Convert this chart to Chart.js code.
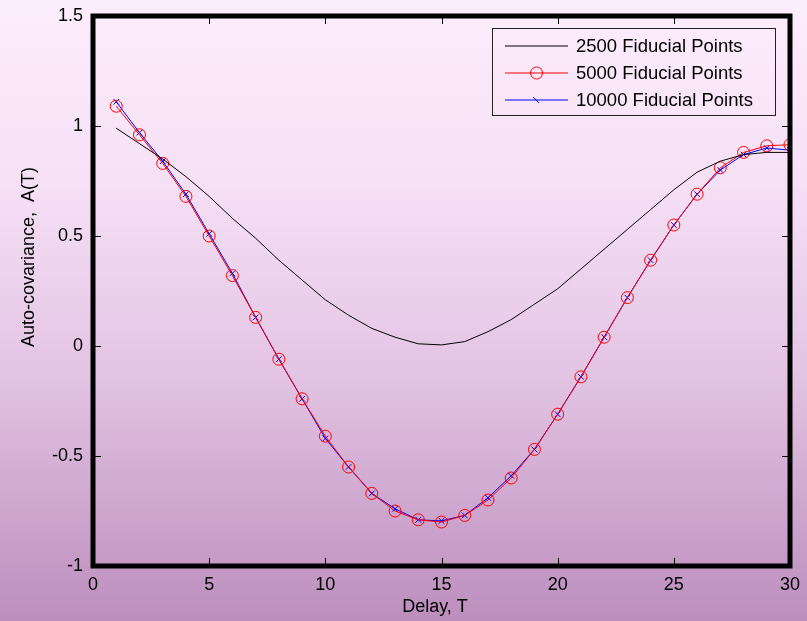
<!DOCTYPE html>
<html>
<head>
<meta charset="utf-8">
<script src="https://cdn.jsdelivr.net/npm/chart.js@4.4.1/dist/chart.umd.min.js"></script>
<style>
  html, body { margin: 0; padding: 0; }
  #wrap { width: 807px; height: 621px; }
</style>
</head>
<body>
<div id="wrap"><canvas id="graph" width="807" height="621"></canvas></div>
<script>
const delays = [1, 2, 3, 4, 5, 6, 7, 8, 9, 10, 11, 12, 13, 14, 15, 16, 17, 18, 19, 20, 21, 22, 23, 24, 25, 26, 27, 28, 29, 30];
const fid2500 = [0.99, 0.92, 0.85, 0.77, 0.68, 0.58, 0.49, 0.39, 0.30, 0.21, 0.14, 0.08, 0.04, 0.01, 0.005, 0.02, 0.065, 0.12, 0.19, 0.26, 0.35, 0.44, 0.53, 0.62, 0.71, 0.79, 0.84, 0.87, 0.88, 0.88];
const fid5000 = [1.09, 0.96, 0.83, 0.68, 0.50, 0.32, 0.13, -0.06, -0.24, -0.41, -0.55, -0.67, -0.75, -0.79, -0.80, -0.77, -0.70, -0.60, -0.47, -0.31, -0.14, 0.04, 0.22, 0.39, 0.55, 0.69, 0.81, 0.88, 0.91, 0.915];
const fid10000 = [1.11, 0.97, 0.84, 0.69, 0.51, 0.33, 0.13, -0.06, -0.24, -0.42, -0.55, -0.67, -0.74, -0.79, -0.795, -0.77, -0.69, -0.59, -0.47, -0.31, -0.14, 0.04, 0.22, 0.39, 0.55, 0.69, 0.80, 0.87, 0.90, 0.89];
const xTicks = [0, 5, 10, 15, 20, 25, 30];
const yTicks = [-1, -0.5, 0, 0.5, 1, 1.5];
const seriesNames = ["2500 Fiducial Points", "5000 Fiducial Points", "10000 Fiducial Points"];

const FONT = "'Liberation Sans', Arial, sans-serif";
const toPts = (ys) => delays.map((d, i) => ({ x: d, y: ys[i] }));

// page background + frame + inside ticks + axis titles + legend box
const decor = {
    id: "decor",
    beforeDraw(chart) {
        const c = chart.ctx;
        const g = c.createLinearGradient(0, 0, 0, chart.height);
        g.addColorStop(0, "#fcedfc");
        g.addColorStop(0.3, "#f6e0f6");
        g.addColorStop(0.6, "#e3c4e3");
        g.addColorStop(1, "#bc8ebd");
        c.save();
        c.fillStyle = g;
        c.fillRect(0, 0, chart.width, chart.height);
        c.restore();
    },
    afterDatasetsDraw(chart) {
        const c = chart.ctx;
        const a = chart.chartArea;
        const sx = chart.scales.x, sy = chart.scales.y;
        c.save();
        c.strokeStyle = "#000";
        c.lineWidth = 1;
        c.beginPath();
        xTicks.forEach((v) => {
            const px = Math.round(sx.getPixelForValue(v)) + 0.5;
            c.moveTo(px, a.bottom); c.lineTo(px, a.bottom - 8);
            c.moveTo(px, a.top); c.lineTo(px, a.top + 8);
        });
        yTicks.forEach((v) => {
            const py = Math.round(sy.getPixelForValue(v)) + 0.5;
            c.moveTo(a.left, py); c.lineTo(a.left + 8, py);
            c.moveTo(a.right, py); c.lineTo(a.right - 8, py);
        });
        c.stroke();
        c.lineWidth = 5;
        c.strokeRect(a.left, a.top, a.right - a.left, a.bottom - a.top);

        // axis titles
        c.fillStyle = "#000";
        c.font = "18px " + FONT;
        c.textAlign = "center";
        c.textBaseline = "middle";
        c.fillText("Delay, T", 435, 607);
        c.translate(29, 257);
        c.rotate(-Math.PI / 2);
        c.fillText("Auto-covariance,  A(T)", 0, 0);
        c.restore();

        // legend
        c.save();
        const bx = 492, by = 28, bw = 283, bh = 87;
        c.strokeStyle = "#222";
        c.lineWidth = 1;
        c.strokeRect(bx + 0.5, by + 0.5, bw, bh);
        c.font = "18.5px " + FONT;
        c.textAlign = "left";
        c.textBaseline = "middle";
        const cols = ["#000", "#ff0000", "#0000ff"];
        seriesNames.forEach((name, i) => {
            const ly = by + 18 + i * 27;
            c.strokeStyle = cols[i];
            c.beginPath();
            c.moveTo(505, ly); c.lineTo(568, ly);
            c.stroke();
            if (i === 1) {
                c.beginPath();
                c.arc(536.5, ly, 6, 0, Math.PI * 2);
                c.stroke();
            }
            if (i === 2) {
                c.beginPath();
                c.moveTo(533, ly - 3); c.lineTo(539, ly + 3);
                c.stroke();
            }
            c.fillStyle = "#000";
            c.fillText(name, 576, ly + 1);
        });
        c.restore();
    }
};

const graph = document.getElementById("graph").getContext("2d");

let myChart = new Chart(graph, {
    type: "line",
    data: {
        datasets: [
            {
                label: seriesNames[0],
                data: toPts(fid2500),
                borderColor: "#000",
                borderWidth: 1,
                pointRadius: 0,
                tension: 0,
            },
            {
                label: seriesNames[1],
                data: toPts(fid5000),
                borderColor: "#ff0000",
                borderWidth: 1,
                pointStyle: "circle",
                pointRadius: 6,
                pointBorderColor: "#ff0000",
                pointBackgroundColor: "rgba(0,0,0,0)",
                pointBorderWidth: 1,
                tension: 0,
            },
            {
                label: seriesNames[2],
                data: toPts(fid10000),
                borderColor: "#0000ff",
                borderWidth: 1,
                pointStyle: "crossRot",
                pointRadius: 4,
                pointBorderColor: "#0000ff",
                pointBorderWidth: 1,
                tension: 0,
            },
        ],
    },
    options: {
        responsive: false,
        animation: false,
        events: [],
        layout: {
            padding: { top: 16, right: 17, left: 0, bottom: 0 },
        },
        plugins: {
            legend: { display: false },
            title: { display: false },
            tooltip: { enabled: false },
        },
        scales: {
            x: {
                type: "linear",
                min: 0,
                max: 30,
                afterBuildTicks: (s) => { s.ticks = xTicks.map((v) => ({ value: v })); },
                afterFit: (s) => { s.height = 55; s.paddingLeft = 0; s.paddingRight = 0; },
                grid: { display: false, drawTicks: false },
                border: { display: false },
                ticks: {
                    color: "#000",
                    padding: 8,
                    font: { family: FONT, size: 18 },
                    maxRotation: 0,
                    callback: (v) => String(v),
                },
            },
            y: {
                type: "linear",
                min: -1,
                max: 1.5,
                afterBuildTicks: (s) => { s.ticks = yTicks.map((v) => ({ value: v })); },
                afterFit: (s) => { s.width = 93; s.paddingTop = 0; s.paddingBottom = 0; },
                grid: { display: false, drawTicks: false },
                border: { display: false },
                ticks: {
                    color: "#000",
                    padding: 10,
                    font: { family: FONT, size: 18 },
                    callback: (v) => String(v),
                },
            },
        },
    },
    plugins: [decor],
});
</script>
</body>
</html>
